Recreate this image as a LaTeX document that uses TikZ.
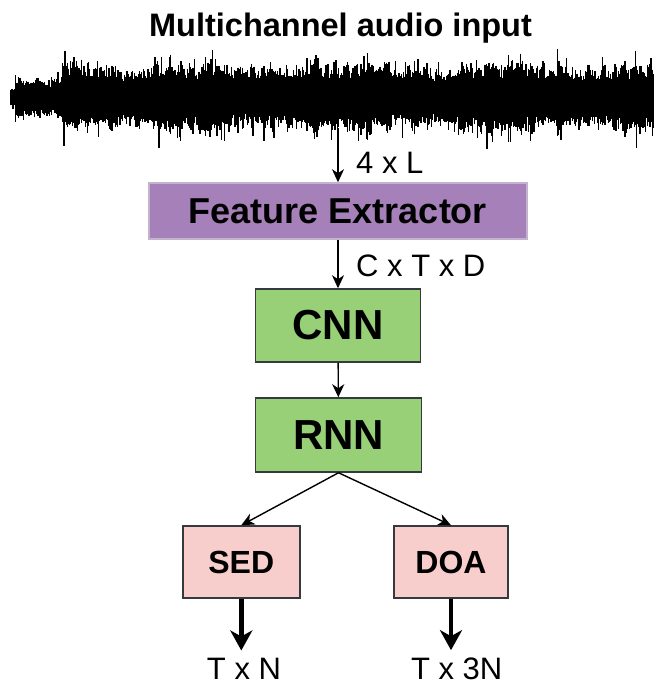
\documentclass[tikz,border=0pt]{standalone}
\usepackage{fontspec}
\setmainfont{Liberation Sans}
\usetikzlibrary{arrows.meta, positioning, calc}
\definecolor{fepurple}{HTML}{A680B8}
\definecolor{feborder}{HTML}{C3B3CE}
\definecolor{nngreen}{HTML}{97D077}
\definecolor{outpink}{HTML}{F8CECC}
\definecolor{boxline}{HTML}{36393D}

\begin{document}
\begin{tikzpicture}[x=1pt, y=-1pt,
  block/.style={draw=boxline, line width=1.5pt, inner sep=0pt, align=center},
  link/.style={-{Stealth[length=13pt, width=12pt, inset=4pt]}, line width=1.4pt},
  fatlink/.style={-{Stealth[length=20pt, width=22pt, inset=6pt]}, line width=4.5pt},
  dimtext/.style={inner sep=0pt, font=\fontsize{31}{36}\selectfont}]
  \useasboundingbox (0,0) rectangle (656,686);

  %% Input waveform ─────────────────────────────────────────────
  \node[anchor=base, inner sep=0pt, font=\bfseries\fontsize{32.5}{38}\selectfont]
    (title) at (340.5,36) {Multichannel audio input};
  \pgfmathsetseed{4321}
  \foreach \x in {11,11.9,...,654}{
    \pgfmathsetmacro{\amp}{(\x<15 ? 0.3 : (\x<62 ? 0.55 : 1))*(1+0.1*sin(\x*2.3)+0.07*sin(\x*7.1))}
    \pgfmathsetmacro{\burst}{12*abs(sin(\x*11.3+90*sin(\x*4.1)))^6}
    \pgfmathsetmacro{\up}{\amp*(18+7*rnd+9*rnd^2+\burst*rnd+13*rnd^9)}
    \pgfmathsetmacro{\dn}{\amp*(17+7*rnd+9*rnd^2+\burst*rnd+13*rnd^9)}
    \draw[line width=1.4pt] (\x,98-\up) -- (\x,98+\dn);
  }
  \coordinate (wavebot) at (338,128);

  %% Feature extraction ─────────────────────────────────────────
  \node[block, draw=feborder, fill=fepurple, minimum width=378pt, minimum height=56pt,
        font=\bfseries\fontsize{36}{40}\selectfont] (fe) at (338,211) {Feature Extractor};
  \draw[link] (wavebot) -- (fe.north);
  \node[dimtext, anchor=base west] (lenlbl) at (356,173) {4 x L};

  %% CNN / RNN ─────────────────────────────────────────────────
  \node[block, fill=nngreen, minimum width=165pt, minimum height=73pt,
        font=\bfseries\fontsize{42}{46}\selectfont] (cnn) at (338,325.5) {CNN};
  \node[block, fill=nngreen, minimum width=166pt, minimum height=74pt,
        font=\bfseries\fontsize{42}{46}\selectfont] (rnn) at (338.5,435) {RNN};
  \draw[link] (fe) -- (cnn);
  \node[dimtext, anchor=base west] (featlbl) at (356,276) {C x T x D};
  \draw[link] (cnn) -- (rnn);

  %% Output branches ───────────────────────────────────────────
  \node[block, fill=outpink, minimum width=117pt, minimum height=72pt,
        font=\bfseries\fontsize{32}{36}\selectfont] (sed) at (241.3,562) {SED};
  \node[block, fill=outpink, minimum width=114pt, minimum height=72pt,
        font=\bfseries\fontsize{32}{36}\selectfont] (doa) at (451,562) {DOA};
  \draw[link] (rnn.south) -- (sed.north);
  \draw[link] (rnn.south) -- (doa.north);
  \node[dimtext, anchor=base] (sedout) at (244,679) {T x N};
  \node[dimtext, anchor=base] (doaout) at (456.7,679) {T x 3N};
  \draw[fatlink, shorten >=7pt] (sed.south) -- (sed.south |- sedout.north);
  \draw[fatlink, shorten >=7pt] (doa.south) -- (doa.south |- doaout.north);
\end{tikzpicture}
\end{document}
